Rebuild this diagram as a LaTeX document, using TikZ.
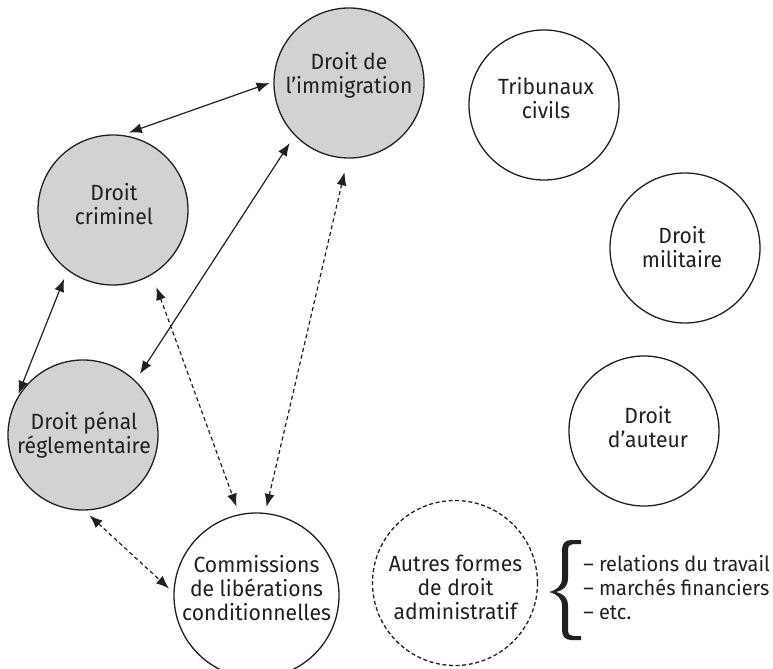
\documentclass[tikz,border=0pt]{standalone}
\usepackage{fontspec}
\setmainfont{Fira Sans}[FakeStretch=0.96]
\usetikzlibrary{arrows.meta}
\definecolor{lawgray}{RGB}{209,210,212}
\definecolor{ink}{RGB}{35,31,32}
\tikzset{
	area/.style = {circle, draw = ink, line width = .65pt, minimum size = 75pt, inner sep = 0pt},
	core/.style = {area, fill = lawgray},
	wide/.style = {minimum size = 82.5pt},
	tag/.style = {align = center, font = \fontsize{11}{12}\selectfont, text = ink, inner sep = 0pt,
		execute at begin node = \strut, execute at end node = \strut},
	link/.style = {<->, >={Latex[length=6.5pt, width=5pt]}, draw = ink, line width = .6pt},
	loose/.style = {link, dash pattern = on 2pt off 1.5pt},
}
\begin{document}
\begin{tikzpicture} [x = .5pt, y = -.5pt]
			\useasboundingbox (0,0) rectangle (773,669);
			
			\node[core] (imm) at (349,83) {};
			\node[core] (crim) at (113,210) {};
			\node[core] (pen) at (83,435) {};
			\node[area, wide] (comm) at (256.5,595.5) {};
			\node[area] (trib) at (544,105) {};
			\node[area] (mil) at (685,248) {};
			\node[area] (aut) at (644,431) {};
			\node[area, wide, dash pattern = on 2pt off 1.3pt] (autres) at (455,583) {};
			
			\node[tag] (imm-t) at (349,77) {Droit de\\l’immigration};
			\node[tag] (crim-t) at (114,208) {Droit\\criminel};
			\node[tag] (pen-t) at (84,436) {Droit pénal\\réglementaire};
			\node[tag] (comm-t) at (256.5,592) {Commissions\\de libérations\\conditionnelles};
			\node[tag] (trib-t) at (546,102) {Tribunaux\\civils};
			\node[tag] (mil-t) at (682,251) {Droit\\militaire};
			\node[tag] (aut-t) at (648,431) {Droit\\d’auteur};
			\node[tag] (autres-t) at (455.5,591) {Autres formes\\de droit\\administratif};
			
			\draw [link, shorten < = 3.5pt, shorten > = 2pt] (crim.83) to (imm.179);
			\draw [link, shorten < = 4pt, shorten > = 4.5pt] (pen.46) to (imm.224);
			\draw [link, shorten < = 4.5pt, shorten > = 3pt] (crim.233) to (pen.152);
			\draw [loose, shorten < = 6.5pt, shorten > = 4pt] (crim.-59) to (comm.102);
			\draw [loose, shorten < = 7pt, shorten > = 3pt] (imm.-91) to (comm.84);
			\draw [loose, shorten < = 3.5pt, shorten > = 3pt] (pen.-89) to (comm.178);
			
			\fill[ink] (581,540) -- (571,540) .. controls (565,540) and (562,544) .. (562,550) -- (562,578)
				.. controls (562,586) and (557,590) .. (549,592) .. controls (557,594) and (562,598) .. (562,606)
				-- (562,630) .. controls (562,636) and (565,640) .. (571,640) -- (581,640) -- (581,636) -- (573,636)
				.. controls (570,636) and (568,634) .. (568,630) -- (568,606) .. controls (568,598) and (564,594) .. (556,592)
				.. controls (564,590) and (568,586) .. (568,578) -- (568,550) .. controls (568,546) and (570,544) .. (573,544)
				-- (581,544) -- cycle;
			\node[tag, font = \fontsize{10.4}{12}\selectfont, align = left, anchor = west] (kinds) at (583,591) {– relations du travail\\– marchés financiers\\– etc.};
		\end{tikzpicture}
\end{document}
